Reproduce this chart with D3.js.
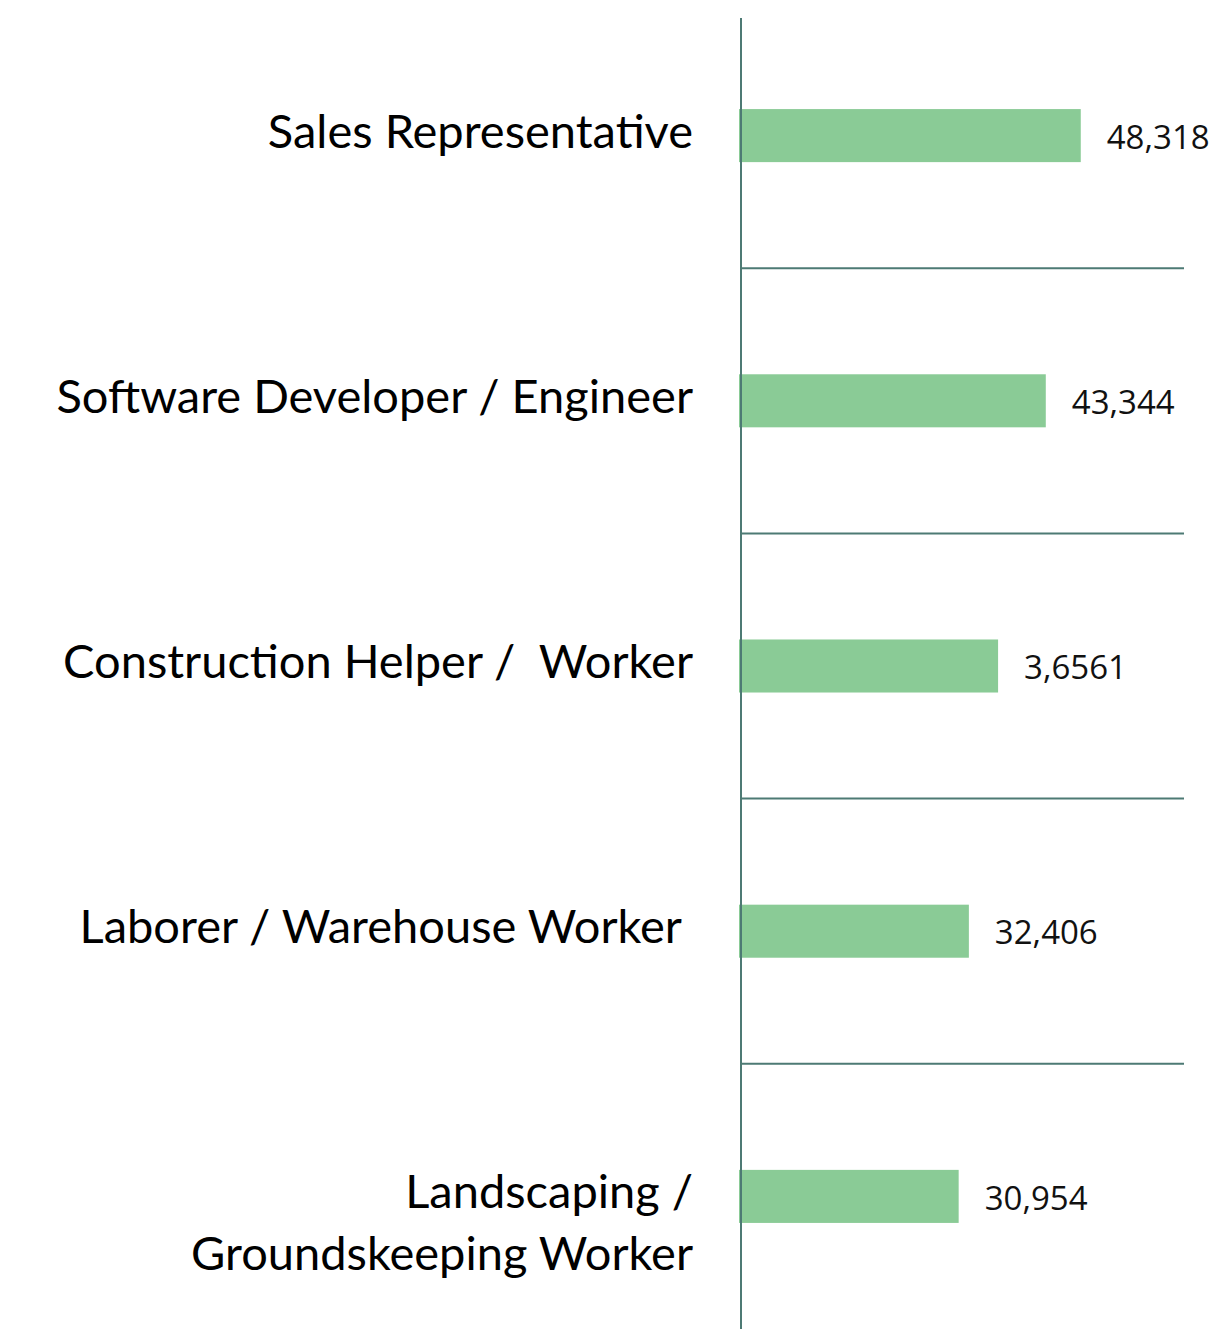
<!DOCTYPE html>
<html>
<head>
<meta charset="utf-8">
<script src="https://cdn.jsdelivr.net/npm/d3@7"></script>
<style>
  body { margin: 0; background: #fff; }
  .cat-label { font-family: Lato, 'Noto Sans', sans-serif; font-size: 47px; fill: #000; white-space: pre; }
  .value-label { font-family: 'Open Sans', 'Noto Sans', sans-serif; font-size: 33px; fill: #111; }
</style>
</head>
<body>
<svg width="1226" height="1329"></svg>
<script>
  const categories = [
    ['Sales Representative'],
    ['Software Developer / Engineer'],
    ['Construction Helper /  Worker'],
    ['Laborer / Warehouse Worker '],
    ['Landscaping /', 'Groundskeeping Worker']
  ];
  const values = [48318, 43344, 36561, 32406, 30954];
  // value labels as printed in the original (including its typo)
  const valueLabels = ['48,318', '43,344', '3,6561', '32,406', '30,954'];

  const svg = d3.select('svg');
  const width = +svg.attr('width');
  const height = +svg.attr('height');

  const axisX = 741;
  const lineColor = '#4d7a74';
  const barColor = '#8acb96';

  const data = categories.map((c, i) => ({ key: i, lines: c, value: values[i], label: valueLabels[i] }));

  const yScale = d3.scaleBand()
    .domain(data.map(d => d.key))
    .range([3, height])
    .paddingInner(0.8)
    .paddingOuter(0.4);

  const xScale = d3.scaleLinear()
    .domain([0, 63000])
    .range([axisX, 1184]);

  const step = yScale.step();
  const gap = (step - yScale.bandwidth()) / 2;

  // separators between categories
  svg.selectAll('line.sep').data(data.slice(1))
    .enter().append('line')
      .attr('class', 'sep')
      .attr('x1', axisX)
      .attr('x2', xScale.range()[1])
      .attr('y1', d => yScale(d.key) - gap)
      .attr('y2', d => yScale(d.key) - gap)
      .attr('stroke', lineColor)
      .attr('stroke-width', 2);

  // bars
  svg.selectAll('rect').data(data)
    .enter().append('rect')
      .attr('x', xScale(0) - 2)
      .attr('y', d => yScale(d.key))
      .attr('width', d => xScale(d.value) - xScale(0) + 2)
      .attr('height', yScale.bandwidth())
      .attr('fill', barColor);

  // vertical axis line
  svg.append('line')
    .attr('x1', axisX).attr('x2', axisX)
    .attr('y1', 18).attr('y2', height)
    .attr('stroke', lineColor)
    .attr('stroke-width', 2);

  // value labels
  svg.selectAll('text.value-label').data(data)
    .enter().append('text')
      .attr('class', 'value-label')
      .attr('x', d => xScale(d.value) + 26)
      .attr('y', d => yScale(d.key) + yScale.bandwidth() / 2)
      .attr('dy', '0.4em')
      .text(d => d.label);

  // category labels
  const catText = svg.selectAll('text.cat-label').data(data)
    .enter().append('text')
      .attr('class', 'cat-label')
      .attr('text-anchor', 'end')
      .attr('x', 693)
      .attr('y', d => yScale(d.key) + yScale.bandwidth() / 2 + 12);

  catText.selectAll('tspan').data(d => d.lines)
    .enter().append('tspan')
      .attr('x', 693)
      .attr('dy', (d, i) => i === 0 ? 0 : 62)
      .text(d => d);
</script>
</body>
</html>
